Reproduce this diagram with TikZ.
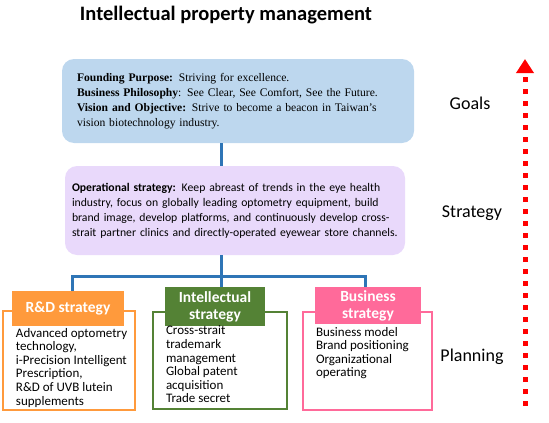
\documentclass[tikz,border=0pt]{standalone}
\usepackage{fontspec}
\setmainfont{Liberation Serif}
\setsansfont{Carlito}
\usetikzlibrary{arrows.meta,positioning}
\definecolor{goalblue}{HTML}{BDD7EE}
\definecolor{stratlilac}{HTML}{E9D9FB}
\definecolor{linkblue}{HTML}{2E75B6}
\definecolor{rdorange}{HTML}{FF9A3C}
\definecolor{ipgreen}{HTML}{548235}
\definecolor{bizpink}{HTML}{FF6A9A}
\begin{document}
\begin{tikzpicture}[
                x=1pt,y=-1pt,
                every node/.style={inner sep=0pt,outer sep=0pt},
                roundbox/.style={rounded corners=12pt,anchor=north west,align=left},
                listbox/.style={draw,line width=2.8pt,anchor=north west},
                headbox/.style={anchor=north west,text=white,align=center,
                        font=\fontsize{15.5}{17}\selectfont\sffamily\bfseries},
                listtext/.style={anchor=north west,align=left,
                        font=\fontsize{13}{13.6}\selectfont\sffamily},
                conn/.style={draw=linkblue,line width=3pt},
                sidelabel/.style={font=\fontsize{18}{20}\selectfont\sffamily}
            ]

            \useasboundingbox (0,0) rectangle (549,423);

            \node[font=\fontsize{20.5}{24}\selectfont\sffamily\bfseries] (title) at (226,15)
                {Intellectual property management};

            \node[roundbox,fill=goalblue,minimum width=337pt,minimum height=84pt,
                    text width=322pt,inner xsep=15pt,
                    font=\fontsize{11.6}{14.8}\selectfont] (goals) at (62,59)
                {\textbf{Founding Purpose:} Striving for excellence.\\
                 \textbf{Business Philosophy}: See Clear, See Comfort, See the Future.\\
                 \textbf{Vision and Objective:} Strive to become a beacon in Taiwan’s\\
                 vision biotechnology industry.};

            \node[roundbox,fill=stratlilac,minimum width=334pt,minimum height=89pt,
                    text width=326pt,inner xsep=7pt,
                    font=\fontsize{11.7}{15}\selectfont\sffamily] (strat) at (65,166)
                {\textbf{Operational strategy:} Keep abreast of trends in the eye health\\
                 industry, focus on globally leading optometry equipment, build\\
                 brand image, develop platforms, and continuously develop cross-\\
                 strait partner clinics and directly-operated eyewear store channels.\\[4pt]};

            \node[listbox,draw=rdorange,minimum width=132pt,minimum height=99pt] (rdbox) at (3,311) {};
            \node[listbox,draw=ipgreen,minimum width=134pt,minimum height=97pt] (ipbox) at (153,312) {};
            \node[listbox,draw=bizpink,minimum width=129pt,minimum height=98pt] (bizbox) at (303,312) {};

            \node[headbox,fill=rdorange,minimum width=112pt,minimum height=35pt] (rdhead) at (12,291)
                {R\&D strategy};
            \node[headbox,fill=ipgreen,minimum width=100pt,minimum height=39pt] (iphead) at (165,287)
                {Intellectual\\strategy};
            \node[headbox,fill=bizpink,minimum width=106pt,minimum height=37pt] (bizhead) at (315,287)
                {Business\\strategy};

            \node[listtext] (rdtext) at (16,328)
                {Advanced optometry\\technology,\\i-Precision Intelligent\\Prescription,\\R\&D of UVB lutein\\supplements};
            \node[listtext] (iptext) at (166,326)
                {Cross-strait\\trademark\\management\\Global patent\\acquisition\\Trade secret};
            \node[listtext] (biztext) at (316,327)
                {Business model\\Brand positioning\\Organizational\\operating};

            \node[sidelabel] (goallabel) at (470,103) {Goals};
            \node[sidelabel] (stratlabel) at (472,213) {Strategy};
            \node[sidelabel] (planlabel) at (472,357) {Planning};

            \coordinate (hub) at (221,276);
            \coordinate (barleft) at (72,276);
            \coordinate (barright) at (365,276);
            \coordinate (arrowfoot) at (525,406);
            \coordinate (arrowtop) at (525,59);

            \draw[conn] (goals.south -| hub) -- (strat.north -| hub);
            \draw[conn] (strat.south -| hub) -- (hub) -- (hub |- iphead.north);
            \draw[conn] (rdhead.north -| barleft) -- (barleft) -- (barright) -- (bizhead.north -| barright);

            \draw[red,line width=5pt,dash pattern=on 5pt off 7pt,
                -{Triangle[width=17pt,length=14pt]}] (arrowfoot) -- (arrowtop);

        \end{tikzpicture}
\end{document}
